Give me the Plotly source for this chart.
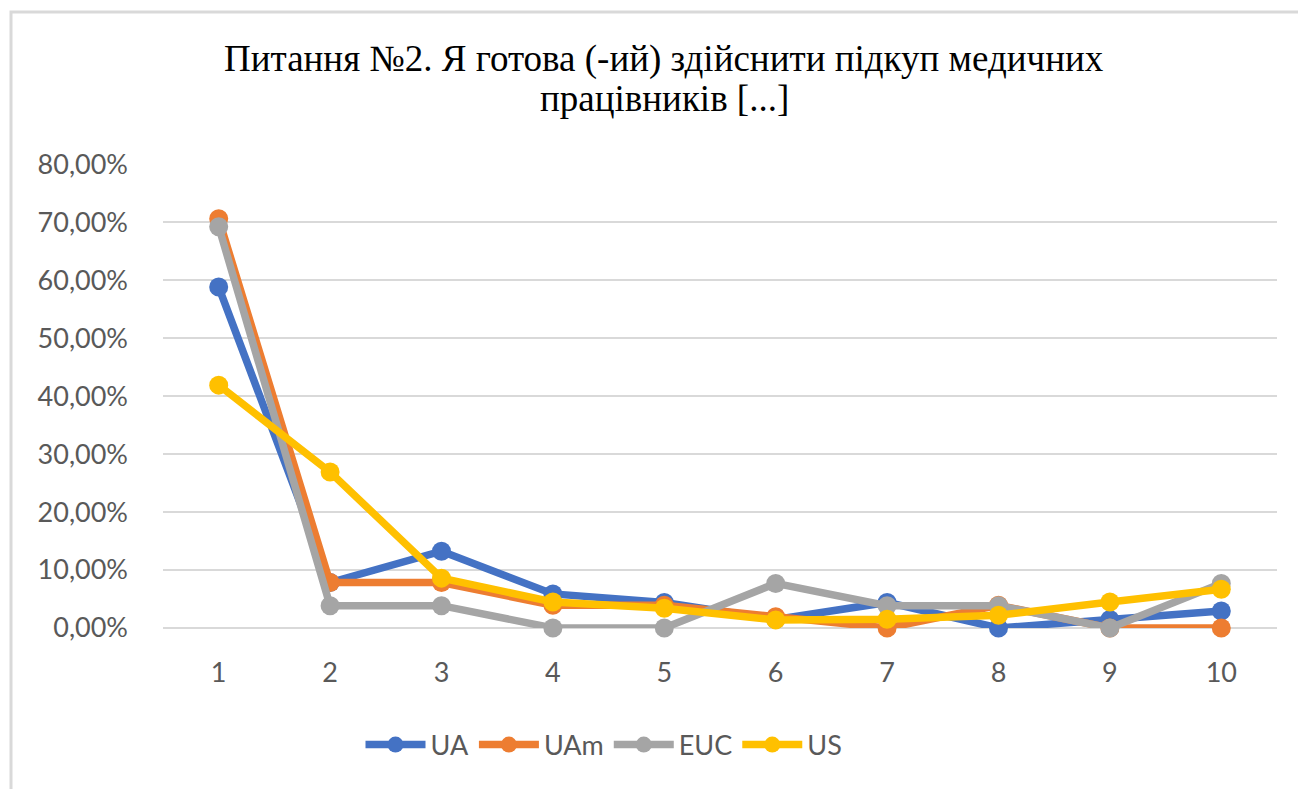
import plotly.graph_objects as go

categories = [1, 2, 3, 4, 5, 6, 7, 8, 9, 10]
tick_labels = ["1", "2", "3", "4", "5", "6", "7", "8", "9", "10"]
ua = [0.5882, 0.0784, 0.1324, 0.0588, 0.0441, 0.0147, 0.0441, 0.0, 0.0147, 0.0294]
uam = [0.7059, 0.0784, 0.0784, 0.0392, 0.0392, 0.0196, 0.0, 0.0392, 0.0, 0.0]
euc = [0.6923, 0.0385, 0.0385, 0.0, 0.0, 0.0769, 0.0385, 0.0385, 0.0, 0.0769]
us = [0.419, 0.269, 0.086, 0.045, 0.034, 0.014, 0.015, 0.022, 0.045, 0.067]
title_lines = ["Питання №2. Я готова (-ий) здійснити підкуп медичних", "працівників [...]"]

series = [("UA", ua, "#4472C4"), ("UAm", uam, "#ED7D31"),
          ("EUC", euc, "#A5A5A5"), ("US", us, "#FFC000")]

fig = go.Figure()
for name, vals, col in series:
    fig.add_trace(go.Scatter(
        x=categories, y=vals, name=name, mode="lines+markers",
        line=dict(color=col, width=7.5),
        marker=dict(color=col, size=19),
        cliponaxis=False,
    ))

W, H = 1306, 789
OFF = 8  # page body offset
L, T = 163 - OFF, 164 - OFF
R = W + OFF - 1277
B = H + OFF - 628
pw, ph = W - L - R, H - T - B


def px_x(p):
    return (p - OFF - L) / pw


def px_y(p):
    return (OFF + T + ph - p) / ph


annotations = []
for txt, yc in zip(title_lines, [59, 99]):
    annotations.append(dict(
        text=txt, xref="paper", yref="paper", x=px_x(664), y=px_y(yc),
        xanchor="center", yanchor="middle", showarrow=False,
        font=dict(family="Liberation Serif", size=37, color="#000000"),
    ))

fig.update_layout(
    width=W, height=H,
    margin=dict(l=L, r=R, t=T, b=B),
    paper_bgcolor="white", plot_bgcolor="white",
    separators=", ",
    font=dict(family="Lato", size=27, color="#595959"),
    xaxis=dict(
        range=[0.5, 10.5], tickmode="array", tickvals=categories, ticktext=tick_labels,
        showgrid=False, zeroline=False, showline=False, ticks="",
        ticklabelstandoff=26,
        tickfont=dict(family="Lato", size=27, color="#595959"),
    ),
    yaxis=dict(
        range=[0, 0.8005], tickformat=".2%", dtick=0.1,
        showgrid=True, gridcolor="#D9D9D9", gridwidth=2,
        zeroline=True, zerolinecolor="#D9D9D9", zerolinewidth=2,
        showline=False, ticks="", ticklabelstandoff=34,
        tickfont=dict(family="Lato", size=27, color="#595959"),
    ),
    showlegend=True,
    legend=dict(
        orientation="h", x=px_x(604), xanchor="center", y=px_y(745), yanchor="middle",
        font=dict(family="Lato", size=27, color="#595959"),
        itemwidth=60, bgcolor="rgba(0,0,0,0)",
    ),
    annotations=annotations,
    shapes=[dict(
        type="rect", xref="paper", yref="paper",
        x0=px_x(11), x1=px_x(1340), y0=px_y(830), y1=px_y(12),
        line=dict(color="#D9D9D9", width=3), fillcolor="rgba(0,0,0,0)", layer="below",
    )],
)

fig.write_html("out.html")
